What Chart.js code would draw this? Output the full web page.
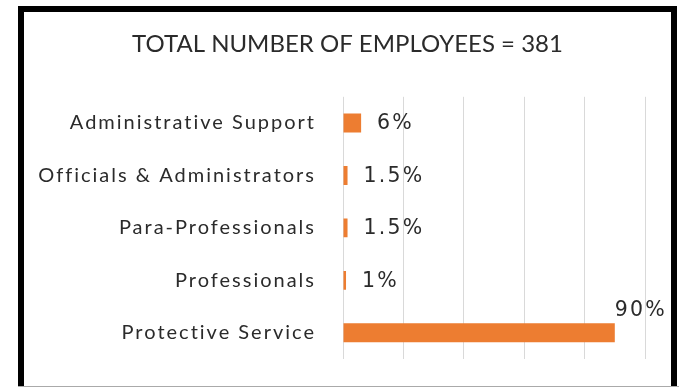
<!DOCTYPE html>
<html lang="en">
<head>
    <meta charset="UTF-8">
    <title>Total Number of Employees</title>
    <script src="https://cdn.jsdelivr.net/npm/chart.js"></script>
    <style>
        html, body { margin: 0; padding: 0; background: #fff; }
        #wrap { position: relative; width: 679px; height: 387px; overflow: hidden; }
        #frame {
            position: absolute; left: 18px; top: 6px; width: 647px; height: 400px;
            border: 6px solid #000; pointer-events: none;
        }
        #baseline { position: absolute; left: 18px; right: 0; top: 386px; height: 1px; background: #aaa; }
    </style>
</head>
<body>
    <div id="wrap">
        <canvas id="chart" width="679" height="387"></canvas>
        <div id="frame"></div>
        <div id="baseline"></div>
    </div>

    <script>
        // chart data
        const categories = ['Administrative Support', 'Officials & Administrators', 'Para-Professionals', 'Professionals', 'Protective Service'];
        const shares = [6, 1.5, 1.5, 1, 90];
        const shareLabels = ['6%', '1.5%', '1.5%', '1%', '90%'];
        const titleText = 'TOTAL NUMBER OF EMPLOYEES = 381';

        const FONT = 'Lato, "Open Sans", sans-serif';
        const NUM_FONT = '"DejaVu Sans", sans-serif';
        const TEXT = '#2b2b2b';

        // % labels next to the bars; the last one goes above the bar when it won't fit.
        // also widens the letter spacing for the category labels (y ticks are drawn after this, z: 1)
        const barLabels = {
            id: 'barLabels',
            afterDatasetsDraw(chart) {
                const ctx = chart.ctx;
                const area = chart.chartArea;
                const meta = chart.getDatasetMeta(0);
                ctx.save();
                ctx.font = '20.5px ' + NUM_FONT;
                ctx.letterSpacing = '2.2px';
                ctx.fillStyle = TEXT;
                ctx.textAlign = 'left';
                meta.data.forEach((bar, i) => {
                    const txt = shareLabels[i];
                    const w = ctx.measureText(txt).width;
                    if (bar.x + 16 + w > area.right) {
                        ctx.textBaseline = 'alphabetic';
                        ctx.fillText(txt, bar.x, bar.y - bar.height / 2 - 7);
                    } else {
                        ctx.textBaseline = 'middle';
                        ctx.fillText(txt, bar.x + 16, bar.y + 1);
                    }
                });
                ctx.restore();
                ctx.letterSpacing = '2px';
            },
            afterDraw(chart) {
                chart.ctx.letterSpacing = '0px';
            }
        };

        new Chart(document.getElementById('chart'), {
            type: 'bar',
            data: {
                labels: categories,
                datasets: [{
                    data: shares,
                    backgroundColor: '#ED7D31',
                    borderWidth: 0,
                    categoryPercentage: 1,
                    barPercentage: 0.36
                }]
            },
            options: {
                indexAxis: 'y',
                responsive: false,
                animation: false,
                layout: { padding: { left: 24, right: 8, top: 0, bottom: 28 } },
                plugins: {
                    legend: { display: false },
                    tooltip: { enabled: false },
                    title: {
                        display: true,
                        text: titleText,
                        color: TEXT,
                        font: { family: FONT, size: 24, weight: 'normal' },
                        padding: { top: 30, bottom: 38 }
                    }
                },
                scales: {
                    x: {
                        min: 0,
                        max: 100,
                        afterFit(scale) { scale.height = 0; },
                        ticks: { stepSize: 20, display: false },
                        grid: { color: '#d9d9d9', lineWidth: 1, drawTicks: false },
                        border: { display: false }
                    },
                    y: {
                        afterFit(scale) {
                            scale.width = 319;
                            scale.paddingTop = 0;
                            scale.paddingBottom = 0;
                        },
                        ticks: {
                            z: 1,
                            color: TEXT,
                            padding: 27,
                            font: { family: FONT, size: 20 }
                        },
                        grid: { display: false, drawTicks: false },
                        border: { display: false }
                    },
                    // empty right-hand strip so the chart area stops short of the frame
                    yr: {
                        type: 'linear',
                        position: 'right',
                        afterFit(scale) {
                            scale.width = 26;
                            scale.paddingTop = 0;
                            scale.paddingBottom = 0;
                        },
                        ticks: { display: false },
                        grid: { display: false, drawTicks: false },
                        border: { display: false }
                    }
                }
            },
            plugins: [barLabels]
        });
    </script>
</body>
</html>
